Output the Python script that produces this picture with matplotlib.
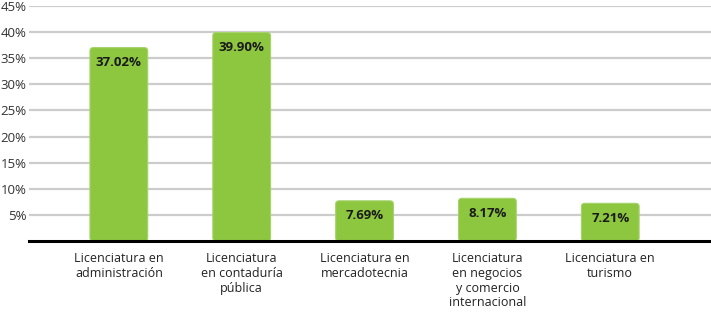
import matplotlib.pyplot as plt
from matplotlib.patches import FancyBboxPatch

categorias = ['Licenciatura en\nadministración', 'Licenciatura\nen contaduría\npública',
              'Licenciatura en\nmercadotecnia', 'Licenciatura\nen negocios\ny comercio\ninternacional',
              'Licenciatura en\nturismo']
valores = [37.02, 39.90, 7.69, 8.17, 7.21]
etiquetas = ['37.02%', '39.90%', '7.69%', '8.17%', '7.21%']
ticks_y = [5, 10, 15, 20, 25, 30, 35, 40, 45]

plt.rcParams['font.family'] = ['Open Sans', 'DejaVu Sans']

fig = plt.figure(figsize=(7.11, 3.12), dpi=100)
ax = fig.add_axes([0.041, 0.2276, 0.959, 0.7534])
ax.set_xlim(-0.73, 4.82)
ax.set_ylim(0, 45)

for y in ticks_y:
    ax.axhline(y, color='#cccccc', lw=1.6, zorder=0)
ax.axhline(0, color='black', lw=2.2, zorder=3, clip_on=False)

ancho = 0.47
for i, v in enumerate(valores):
    # esquinas redondeadas de ~3 px
    caja = FancyBboxPatch((i - ancho / 2, 0), ancho, v,
                          boxstyle='round,pad=0,rounding_size=0.028',
                          mutation_aspect=22,
                          fc='#8dc63f', ec='#a5d36a', lw=0.8, zorder=2)
    ax.add_patch(caja)
    ax.text(i, v - 2.9, etiquetas[i], ha='center', va='center', fontsize=9.5,
            fontweight='bold', color='#1a1a1a', zorder=4)

ax.set_yticks(ticks_y)
ax.set_yticklabels([f'{t}%' for t in ticks_y], fontsize=9.5, color='#333333')
ax.set_xticks(range(len(categorias)))
ax.set_xticklabels(categorias, fontsize=9, color='#222222', linespacing=1.18)
ax.tick_params(axis='both', length=0, pad=2)
ax.tick_params(axis='x', pad=8)
for s in ax.spines.values():
    s.set_visible(False)

plt.savefig('out.png', dpi=100)
